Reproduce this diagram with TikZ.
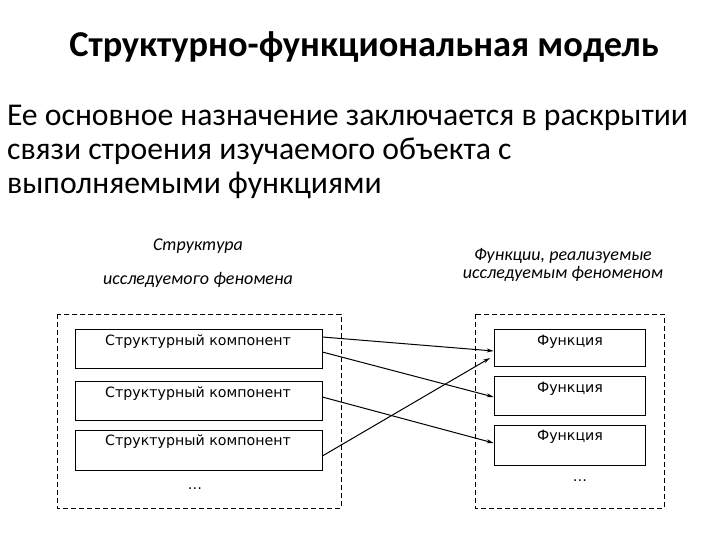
\documentclass[tikz,border=0pt]{standalone}
\usepackage{fontspec}
\setmainfont{Carlito}
\newfontfamily\boxfont{DejaVu Sans}
\usetikzlibrary{arrows.meta}
\begin{document}
\begin{tikzpicture}[x=1pt,y=-1pt,
  outer/.style={draw,dash pattern=on 5pt off 3pt,line width=0.6pt},
  inner/.style={draw,line width=0.7pt},
  boxtxt/.style={font=\boxfont\fontsize{14.2}{16}\selectfont,anchor=center,inner sep=0pt},
  conn/.style={-{Stealth[length=7pt,width=4pt]},line width=1pt},
  head/.style={font=\itshape\fontsize{18}{21}\selectfont,anchor=center,inner sep=0pt}]
\useasboundingbox (0,0) rectangle (720,540);
\node[font=\bfseries\fontsize{36.4}{40}\selectfont,anchor=center] (title) at (364,47) {Структурно-функциональная модель};
\node[font=\fontsize{31.7}{34}\selectfont,anchor=north west,align=left,inner sep=0pt] (body) at (7,105)
 {Ее основное назначение заключается в раскрытии\\связи строения изучаемого объекта с\\выполняемыми функциями};
\node[head] (h1) at (198,246) {Структура};
\node[head] (h2) at (198,280) {исследуемого феномена};
\node[head] (h3) at (563,256) {Функции, реализуемые};
\node[head] (h4) at (563,274) {исследуемым феноменом};
\draw[outer] (57,314) rectangle (341,508);
\draw[outer] (475,314) rectangle (664,508);
\node[inner,minimum width=247pt,minimum height=39pt,inner sep=0pt] (l1) at (198.5,348.5) {};
\node[inner,minimum width=247pt,minimum height=39pt,inner sep=0pt] (l2) at (198.5,400.5) {};
\node[inner,minimum width=247pt,minimum height=40pt,inner sep=0pt] (l3) at (198.5,450) {};
\node[boxtxt] at (198,342) {Структурный компонент};
\node[boxtxt] at (198,394) {Структурный компонент};
\node[boxtxt] at (198,442) {Структурный компонент};
\node[boxtxt] (ld) at (195,489) {…};
\node[inner,minimum width=151pt,minimum height=37pt,inner sep=0pt] (r1) at (569.5,347.5) {};
\node[inner,minimum width=151pt,minimum height=39pt,inner sep=0pt] (r2) at (569.5,395.5) {};
\node[inner,minimum width=151pt,minimum height=40pt,inner sep=0pt] (r3) at (569.5,445) {};
\node[boxtxt] at (570,342) {Функция};
\node[boxtxt] at (570,389) {Функция};
\node[boxtxt] at (570,437) {Функция};
\node[boxtxt] (rd) at (580,481) {…};
\coordinate (a1s) at (l1.east |- 0,337);
\coordinate (a1e) at (r1.west |- 0,351);
\coordinate (a2s) at (l1.east |- 0,352);
\coordinate (a2e) at (r2.west |- 0,397);
\coordinate (a3s) at (l2.east |- 0,397);
\coordinate (a3e) at (r3.west |- 0,443);
\coordinate (a4s) at (l3.east |- 0,456);
\coordinate (a4e) at (490,358);
\draw[conn] (a1s) -- (a1e);
\draw[conn] (a2s) -- (a2e);
\draw[conn] (a3s) -- (a3e);
\draw[conn] (a4s) -- (a4e);
\end{tikzpicture}
\end{document}
